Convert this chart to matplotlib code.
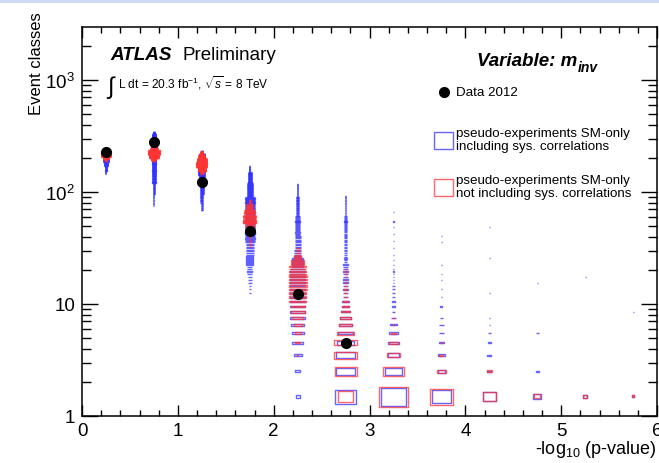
import matplotlib
matplotlib.use("Agg")
import matplotlib.pyplot as plt
from matplotlib.patches import Rectangle
from matplotlib.collections import PatchCollection
from matplotlib.ticker import MultipleLocator, FixedLocator, FixedFormatter, LogLocator, NullFormatter

plt.rcParams['font.family'] = ['Liberation Sans', 'DejaVu Sans']
plt.rcParams['mathtext.fontset'] = 'custom'
plt.rcParams['mathtext.rm'] = 'Liberation Sans'
plt.rcParams['mathtext.it'] = 'Liberation Sans:italic'
plt.rcParams['mathtext.bf'] = 'Liberation Sans:bold'

# observed number of event classes per -log10(p) bin
DATA_X = [0.25, 0.75, 1.25, 1.75, 2.25, 2.75]
DATA_Y = [228, 279, 123, 45, 12.3, 4.5]

# pseudo-experiments, box plot cells:
# (bin centre, first n, last n, box size as fraction of the cell)
SYS_CORR_BOXES = [
    (0.25, 237, 246, 0.06), (0.25, 200, 236, 0.14), (0.25, 185, 199, 0.11),
    (0.25, 170, 184, 0.08), (0.25, 155, 169, 0.05), (0.25, 145, 154, 0.02),
    (0.75, 330, 343, 0.03), (0.75, 300, 329, 0.08), (0.75, 250, 299, 0.13),
    (0.75, 200, 249, 0.11), (0.75, 160, 199, 0.09), (0.75, 120, 159, 0.07),
    (0.75, 95, 119, 0.05), (0.75, 75, 94, 0.025),
    (1.25, 220, 232, 0.04), (1.25, 190, 219, 0.12), (1.25, 140, 189, 0.15),
    (1.25, 115, 139, 0.12), (1.25, 95, 114, 0.09), (1.25, 80, 94, 0.06),
    (1.25, 68, 79, 0.03),
    (1.75, 150, 170, 0.03), (1.75, 120, 149, 0.08), (1.75, 90, 119, 0.12),
    (1.75, 45, 89, 0.2), (1.75, 35, 44, 0.2), (1.75, 27, 34, 0.17),
    (1.75, 22, 26, 0.14), (1.75, 18, 21, 0.11), (1.75, 15, 17, 0.08),
    (1.75, 12, 14, 0.04),
    (2.25, 1, 1, 0.08), (2.25, 2, 2, 0.1), (2.25, 3, 3, 0.17), (2.25, 4, 4, 0.23),
    (2.25, 5, 5, 0.25), (2.25, 6, 6, 0.28), (2.25, 7, 8, 0.31), (2.25, 9, 20, 0.3),
    (2.25, 21, 25, 0.22), (2.25, 26, 30, 0.16), (2.25, 31, 40, 0.12),
    (2.25, 41, 60, 0.09), (2.25, 61, 90, 0.06), (2.25, 91, 118, 0.03),
    (2.75, 1, 1, 0.44), (2.75, 2, 3, 0.38), (2.75, 4, 4, 0.37), (2.75, 5, 5, 0.3),
    (2.75, 6, 6, 0.27), (2.75, 7, 7, 0.22), (2.75, 8, 8, 0.18), (2.75, 9, 9, 0.15),
    (2.75, 10, 10, 0.13), (2.75, 11, 15, 0.12), (2.75, 16, 22, 0.09),
    (2.75, 23, 35, 0.07), (2.75, 36, 60, 0.05), (2.75, 61, 92, 0.02),
    (3.25, 1, 1, 0.52), (3.25, 2, 2, 0.35), (3.25, 3, 4, 0.23), (3.25, 5, 5, 0.17),
    (3.25, 6, 6, 0.14), (3.25, 7, 7, 0.1), (3.25, 8, 9, 0.08), (3.25, 10, 14, 0.06),
    (3.25, 15, 19, 0.04), (3.25, 20, 20, 0.03), (3.25, 22, 22, 0.03),
    (3.25, 24, 24, 0.03), (3.25, 27, 27, 0.03), (3.25, 31, 31, 0.03),
    (3.25, 36, 36, 0.02), (3.25, 42, 42, 0.02), (3.25, 48, 48, 0.02),
    (3.25, 54, 54, 0.02), (3.25, 66, 66, 0.02),
    (3.75, 1, 1, 0.4), (3.75, 2, 2, 0.15), (3.75, 3, 3, 0.14), (3.75, 4, 6, 0.09),
    (3.75, 7, 7, 0.06), (3.75, 9, 9, 0.04), (3.75, 11, 11, 0.03),
    (3.75, 13, 13, 0.03), (3.75, 16, 16, 0.02), (3.75, 18, 18, 0.02),
    (3.75, 22, 22, 0.02), (3.75, 35, 35, 0.02), (3.75, 40, 40, 0.02),
    (4.25, 1, 1, 0.26), (4.25, 2, 2, 0.09), (4.25, 3, 3, 0.08), (4.25, 4, 4, 0.07),
    (4.25, 5, 5, 0.06), (4.25, 6, 7, 0.03), (4.25, 12, 12, 0.02),
    (4.25, 25, 25, 0.03), (4.25, 48, 48, 0.02),
    (4.75, 1, 1, 0.17), (4.75, 2, 2, 0.06), (4.75, 5, 5, 0.07), (4.75, 15, 15, 0.02),
    (5.25, 1, 1, 0.09), (5.25, 17, 17, 0.02),
    (5.75, 1, 1, 0.06), (5.75, 8, 8, 0.02),
]

NO_SYS_CORR_BOXES = [
    (0.25, 225, 232, 0.17), (0.25, 205, 224, 0.2), (0.25, 195, 204, 0.14),
    (0.25, 188, 194, 0.06),
    (0.75, 245, 255, 0.08), (0.75, 235, 244, 0.17), (0.75, 215, 234, 0.24),
    (0.75, 200, 214, 0.2), (0.75, 190, 199, 0.1),
    (1.25, 215, 230, 0.06), (1.25, 200, 214, 0.15), (1.25, 185, 199, 0.21),
    (1.25, 165, 184, 0.23), (1.25, 155, 164, 0.17), (1.25, 145, 154, 0.08),
    (1.75, 78, 85, 0.05), (1.75, 70, 77, 0.15), (1.75, 63, 69, 0.24),
    (1.75, 52, 62, 0.28), (1.75, 48, 51, 0.2), (1.75, 43, 47, 0.1),
    (1.75, 32, 42, 0.04),
    (2.25, 3, 3, 0.06), (2.25, 4, 4, 0.1), (2.25, 5, 5, 0.13), (2.25, 6, 6, 0.17),
    (2.25, 7, 7, 0.24), (2.25, 8, 9, 0.29), (2.25, 10, 12, 0.34),
    (2.25, 13, 17, 0.38), (2.25, 18, 21, 0.34), (2.25, 22, 24, 0.26),
    (2.25, 25, 27, 0.16), (2.25, 28, 31, 0.08),
    (2.75, 1, 1, 0.31), (2.75, 2, 2, 0.46), (2.75, 3, 4, 0.48), (2.75, 5, 5, 0.35),
    (2.75, 6, 6, 0.29), (2.75, 7, 7, 0.23), (2.75, 8, 8, 0.19), (2.75, 9, 9, 0.15),
    (2.75, 10, 10, 0.12), (2.75, 11, 15, 0.08), (2.75, 16, 20, 0.04),
    (3.25, 1, 1, 0.61), (3.25, 2, 2, 0.44), (3.25, 3, 3, 0.29), (3.25, 4, 4, 0.17),
    (3.25, 5, 5, 0.12), (3.25, 6, 6, 0.08), (3.25, 7, 7, 0.05), (3.25, 8, 8, 0.03),
    (3.75, 1, 1, 0.49), (3.75, 2, 2, 0.19), (3.75, 3, 3, 0.08), (3.75, 4, 4, 0.06),
    (4.25, 1, 1, 0.28), (4.25, 2, 2, 0.1),
    (4.75, 1, 1, 0.12),
    (5.25, 1, 1, 0.09),
    (5.75, 1, 1, 0.06),
]

BIN_WIDTH = 0.5
BLUE = (0.2, 0.2, 1.0, 0.75)
RED = (1.0, 0.2, 0.2, 0.75)


def add_boxes(ax, rows, color):
    patches = []
    for xc, n_lo, n_hi, size in rows:
        for n in range(n_lo, n_hi + 1):
            w = BIN_WIDTH * size
            patches.append(Rectangle((xc - w / 2, n + 0.5 - size / 2), w, size))
    coll = PatchCollection(patches, facecolor='none', edgecolor=color, linewidth=1.0)
    ax.add_collection(coll)


fig = plt.figure(figsize=(6.59, 4.64), dpi=100)
ax = fig.add_axes([82 / 659, 1 - 417 / 464, 575 / 659, 389 / 464])

# light blue strip along the top of the page
fig.patches.append(Rectangle((0, 1 - 4 / 464), 1, 4 / 464, transform=fig.transFigure,
                             facecolor='#cddcf2', edgecolor='none'))

add_boxes(ax, SYS_CORR_BOXES, BLUE)
add_boxes(ax, NO_SYS_CORR_BOXES, RED)
ax.plot(DATA_X, DATA_Y, 'o', color='black', markersize=7, zorder=5)

ax.set_yscale('log')
ax.set_xlim(0, 6)
ax.set_ylim(1, 2970)

ax.xaxis.set_major_locator(MultipleLocator(1))
ax.xaxis.set_minor_locator(MultipleLocator(0.2))
ax.yaxis.set_major_locator(FixedLocator([1, 10, 100, 1000]))
ax.yaxis.set_major_formatter(FixedFormatter(['1', '10', '$10^2$', '$10^3$']))
ax.yaxis.set_minor_locator(LogLocator(base=10, subs=range(2, 10)))
ax.yaxis.set_minor_formatter(NullFormatter())

ax.tick_params(which='both', direction='in', top=True, right=True, width=1.0)
ax.tick_params(axis='x', which='major', length=8, labelsize=13.5, pad=4)
ax.tick_params(axis='x', which='minor', length=4.3)
ax.tick_params(axis='y', which='major', length=11.5, labelsize=13.5, pad=5)
ax.tick_params(axis='y', which='minor', length=6.5)
for sp in ax.spines.values():
    sp.set_linewidth(1.1)

ax.set_ylabel('Event classes', fontsize=12, loc='top')
ax.yaxis.set_label_coords(-0.066, 1.041)
ax.set_xlabel('-log$_{10}$ (p-value)', fontsize=13, loc='right')
ax.xaxis.set_label_coords(1.0, -0.056)

ax.text(0.0487, 0.93, 'ATLAS', transform=ax.transAxes, fontsize=13.6,
        fontweight='bold', style='italic', va='center')
ax.text(0.174, 0.93, 'Preliminary', transform=ax.transAxes, fontsize=13.5, va='center')
ax.text(0.042, 0.846, r'$\int$', transform=ax.transAxes, fontsize=17, va='center')
ax.text(0.063, 0.859, r'L dt = 20.3 fb$^{-1}$, $\sqrt{s}$ = 8 TeV',
        transform=ax.transAxes, fontsize=8.6, va='center')

var = ax.text(0.687, 0.913, 'Variable: m', transform=ax.transAxes, fontsize=13.5,
              fontweight='bold', style='italic', va='center')
ax.annotate('inv', xy=(1.0, 0.12), xycoords=var, fontsize=10, fontweight='bold',
            style='italic', va='center', ha='left')

# legend
ax.plot([0.630], [0.833], 'o', color='black', markersize=7, transform=ax.transAxes,
        clip_on=False)
ax.text(0.650, 0.833, 'Data 2012', transform=ax.transAxes, fontsize=9.6, va='center')
ax.add_patch(Rectangle((0.612, 0.686), 0.033, 0.044, transform=ax.transAxes,
                       facecolor='none', edgecolor=BLUE, linewidth=1.0))
ax.text(0.650, 0.711, 'pseudo-experiments SM-only\nincluding sys. correlations',
        transform=ax.transAxes, fontsize=9.6, va='center', linespacing=1.1)
ax.add_patch(Rectangle((0.612, 0.566), 0.033, 0.044, transform=ax.transAxes,
                       facecolor='none', edgecolor=RED, linewidth=1.0))
ax.text(0.650, 0.590, 'pseudo-experiments SM-only\nnot including sys. correlations',
        transform=ax.transAxes, fontsize=9.6, va='center', linespacing=1.1)

fig.savefig('out.png', dpi=100)
